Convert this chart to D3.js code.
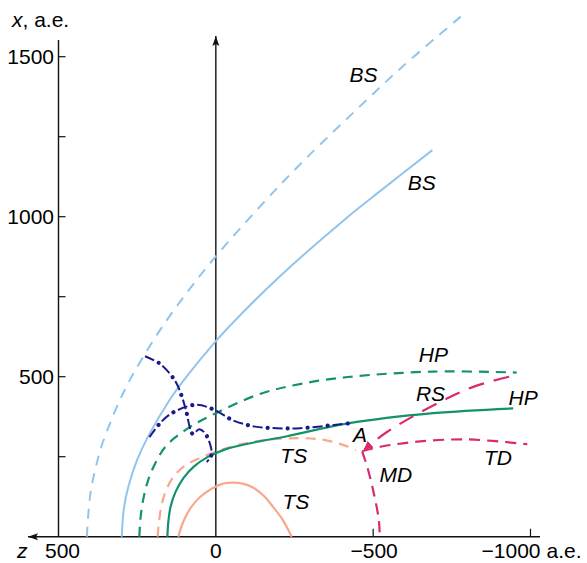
<!DOCTYPE html>
<html><head><meta charset="utf-8">
<script src="https://cdn.jsdelivr.net/npm/d3@7"></script>
<style>
html,body{margin:0;padding:0;background:#fff;}
svg{display:block;font-family:"Liberation Sans",Arial,Helvetica,sans-serif;}
</style></head><body>
<svg id="c" width="587" height="563"></svg>
<script>
// ---- data: curves as [z, x] pairs in a.e. ----
const bsDashed = [[410,0],[405,73],[397,146],[382,215],[364,281],[336,355],[305,427],[273,490],[231,562],[171,655],[90,765],[2,874],[-150,1042],[-272,1168],[-423,1312],[-592,1468],[-784,1630]];
const bsSolid = [[299,0],[292,90],[277,160],[250,240],[216,312],[147,427],[101,490],[2,609],[-85,700],[-215,824],[-408,990],[-526,1083],[-688,1208]];
const hpDashed = [[243,0],[240,52],[231,115],[215,177],[187,240],[155,287],[82,343],[0,386],[-140,446],[-267,477],[-420,499],[-690,516],[-956,513]];
const hpSolid = [[154,0],[151,46],[144,93],[128,140],[103,183],[70,219],[28,248],[-30,273],[-109,292],[-226,314],[-420,354],[-691,386],[-945,401]];
const tsDashed = [[185,0],[180,52],[171,105],[155,152],[130,193],[95,224],[50,246],[-7,268],[-71,287],[-156,302],[-267,308],[-347,302],[-404,287],[-445,271]];
const tsSolid = [[119,0],[104,46],[80,90],[50,124],[15,149],[-20,165],[-51,169],[-86,166],[-121,152],[-153,127],[-182,93],[-213,52],[-241,0]];
const mdDashed = [[-465,267],[-481,219],[-502,136],[-518,52],[-521,0]];
const tdDashed = [[-465,267],[-523,281],[-640,297],[-799,304],[-990,289]];
const rsDashed = [[-932,500],[-820,469],[-714,422],[-545,328],[-472,273]];
const dashDot1 = [[211,311],[177,355],[140,386],[66,412],[8,398],[-56,363],[-125,344],[-194,339],[-268,339],[-375,349],[-421,354]];
const dashDot2 = [[225,564],[177,540],[130,488],[108,438],[95,396],[73,321],[53,336],[34,323],[15,277],[15,252],[29,233]];
const xTicksMajor = [500,1000,1500];
const xTicksMinor = [250,750,1250];
const zTicks = [-500,-1000];
const labels = [
  {t:"BS", z:-425, x:1420}, {t:"BS", z:-610, x:1085},
  {t:"HP", z:-645, x:545}, {t:"RS", z:-636, x:425},
  {t:"HP", z:-930, x:411}, {t:"A", z:-436, x:297},
  {t:"TD", z:-852, x:225}, {t:"MD", z:-520, x:172},
  {t:"TS", z:-205, x:230}, {t:"TS", z:-212, x:86}
];

// ---- scales ----
const sx = d3.scaleLinear().domain([500,-1000]).range([58.5,530.5]);
const sy = d3.scaleLinear().domain([0,1500]).range([536.7,56.7]);
const svg = d3.select("#c");
const line = d3.line().x(d=>sx(d[0])).y(d=>sy(d[1])).curve(d3.curveCatmullRom.alpha(0.5));

const defs = svg.append("defs");
defs.append("marker").attr("id","arrUp").attr("viewBox","0 0 10 10").attr("refX",10).attr("refY",5)
  .attr("markerWidth",10).attr("markerHeight",10).attr("markerUnits","userSpaceOnUse").attr("orient","auto")
  .append("path").attr("d","M0,1.5 L10,5 L0,8.5 L2,5 Z").attr("fill","#111");
defs.append("marker").attr("id","arrA").attr("viewBox","0 0 10 10").attr("refX",9).attr("refY",5)
  .attr("markerWidth",9).attr("markerHeight",9).attr("markerUnits","userSpaceOnUse").attr("orient","auto")
  .append("path").attr("d","M0,0 L10,5 L0,10 Z").attr("fill","#d92a70");

// ---- axes ----
const axisCol = "#111";
svg.append("line").attr("x1",sx(500)).attr("x2",sx(500)).attr("y1",40).attr("y2",sy(0)).attr("stroke",axisCol).attr("stroke-width",1.4);
svg.selectAll(".ytk").data(xTicksMajor.concat(xTicksMinor)).enter().append("line")
  .attr("x1",sx(500)).attr("x2",sx(500)+7).attr("y1",d=>sy(d)).attr("y2",d=>sy(d)).attr("stroke",axisCol).attr("stroke-width",1.2);
svg.selectAll(".ylb").data(xTicksMajor).enter().append("text")
  .attr("x",54).attr("y",d=>sy(d)+7.6).attr("text-anchor","end").attr("font-size",21).attr("fill","#000").text(d=>d);
svg.append("line").attr("x1",540).attr("x2",28).attr("y1",sy(0)).attr("y2",sy(0)).attr("stroke",axisCol).attr("stroke-width",1.4).attr("marker-end","url(#arrUp)");
svg.selectAll(".ztk").data(zTicks).enter().append("line")
  .attr("x1",d=>sx(d)).attr("x2",d=>sx(d)).attr("y1",sy(0)).attr("y2",sy(0)-8).attr("stroke",axisCol).attr("stroke-width",1.2);
svg.append("line").attr("x1",sx(0)).attr("x2",sx(0)).attr("y1",sy(0)).attr("y2",36).attr("stroke",axisCol).attr("stroke-width",1.4).attr("marker-end","url(#arrUp)");
const bl = svg.append("g").attr("font-size",21).attr("fill","#000");
bl.append("text").attr("x",sx(500)+4).attr("y",558).attr("text-anchor","middle").text("500");
bl.append("text").attr("x",sx(0)).attr("y",558).attr("text-anchor","middle").text("0");
bl.append("text").attr("x",sx(-500)+1).attr("y",558).attr("text-anchor","middle").text("\u2212500");
bl.append("text").attr("x",sx(-1000)+10).attr("y",558).attr("text-anchor","end").text("\u22121000");
bl.append("text").attr("x",sx(-1000)+16).attr("y",558).text("a.e.");
bl.append("text").attr("x",17).attr("y",558).attr("font-style","italic").text("z");
const tl = svg.append("text").attr("x",12).attr("y",27).attr("font-size",21).attr("fill","#000");
tl.append("tspan").attr("font-style","italic").text("x");
tl.append("tspan").text(", a.e.");

// ---- curves ----
const blue="#92c5ec", green="#12936b", salmon="#f8a88d", crim="#d92a70", navy="#1a1a8e";
function draw(data, col, dash, w){
  return svg.append("path").attr("d",line(data)).attr("fill","none").attr("stroke",col)
    .attr("stroke-width",w||2).attr("stroke-dasharray",dash||null);
}
draw(bsDashed, blue, "10,8", 2);
draw(bsSolid, blue, null, 2);
draw(tsDashed, salmon, "10,7", 2.2);
draw(tsSolid, salmon, null, 2.2);
draw(hpDashed, green, "10,7", 2.2);
draw(hpSolid, green, null, 2.2);
draw(mdDashed, crim, "11,7", 2.2);
draw(tdDashed, crim, "11,7", 2.2);
draw(rsDashed, crim, "16,10", 2.2).attr("marker-end","url(#arrA)");
[dashDot1, dashDot2].forEach(dd => {
  draw(dd, navy, "10,10", 2);
  draw(dd, navy, "0.01,20", 4.2).attr("stroke-dashoffset",5).attr("stroke-linecap","round");
});

// ---- curve labels ----
svg.selectAll(".cl").data(labels).enter().append("text")
  .attr("x",d=>sx(d.z)).attr("y",d=>sy(d.x)).attr("font-size",21).attr("font-style","italic").attr("fill","#000").text(d=>d.t);
</script>
</body></html>
